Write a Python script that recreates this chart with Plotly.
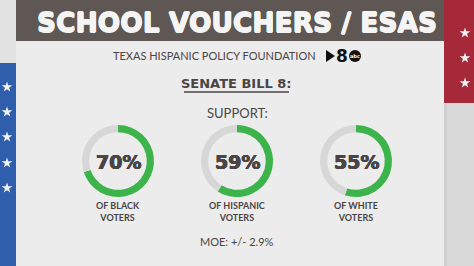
import plotly.graph_objects as go

W, H = 474, 266

# ---- data ----
title = "SCHOOL VOUCHERS / ESAS"
source = "TEXAS HISPANIC POLICY FOUNDATION"
bill = "SENATE BILL 8:"
subtitle = "SUPPORT:"
groups = ["BLACK", "HISPANIC", "WHITE"]
support = [70, 59, 55]
moe = "MOE: +/- 2.9%"

# ---- style ----
GREEN = "#3db44b"
TRACK = "#d7d7d7"
PANEL = "#ececec"
HEADER = "#5f5753"
TEXT = "#4a4544"
BLUE = "#2f5fac"
RED = "#a6293a"
centers_x = [118, 237, 356]
center_y = 161
R = 36

fig = go.Figure()

for g, v, cx in zip(groups, support, centers_x):
    fig.add_trace(go.Pie(
        values=[v, 100 - v],
        marker=dict(colors=[GREEN, TRACK], line=dict(width=0)),
        hole=0.80, sort=False, direction="clockwise", rotation=0,
        textinfo="none", hoverinfo="skip", showlegend=False,
        domain=dict(x=[(cx - R) / W, (cx + R) / W],
                    y=[(H - center_y - R) / H, (H - center_y + R) / H]),
    ))

shapes = []
def rect(x0, y0, x1, y1, color):
    shapes.append(dict(type="rect", xref="x", yref="y", x0=x0, x1=x1, y0=y0, y1=y1,
                       fillcolor=color, line=dict(width=0), layer="below"))

rect(0, 0, 16, 63, "#e2e2e2")
rect(0, 63, 16, 266, BLUE)
rect(444, 0, 474, 103, RED)
rect(444, 103, 474, 266, "#dadada")
rect(444, 103, 447, 266, "#cfcfcf")
rect(16, 0, 444, 41, HEADER)
# underline
shapes.append(dict(type="line", xref="x", yref="y", x0=184, x1=289, y0=92, y1=92,
                   line=dict(color=TEXT, width=1.5)))
# logo pieces
shapes.append(dict(type="path", xref="x", yref="y",
                   path="M 326 50 L 335 56 L 326 62 Z", fillcolor="#111", line=dict(width=0)))
shapes.append(dict(type="circle", xref="x", yref="y", x0=349, x1=361, y0=50, y1=62,
                   fillcolor="#111", line=dict(width=0)))

ann = []
def txt(x, y, s, size, color=TEXT, family="Lato", weight="normal", shadow=None):
    f = dict(size=size, color=color, family=family, weight=weight)
    if shadow:
        f["shadow"] = shadow
    ann.append(dict(x=x, y=y, xref="x", yref="y", text=s, showarrow=False,
                    xanchor="center", yanchor="middle", borderpad=0, font=f))

def thick(c, d):
    return f"{d}px 0 0 {c}, -{d}px 0 0 {c}, 0 {d}px 0 {c}, 0 -{d}px 0 {c}"

txt(237, 22, title, 26.5, "#f4f4f4", "DejaVu Sans", "bold", thick("#f4f4f4", 0.6))
txt(214, 55, source, 11)
txt(342, 56, "8", 17, "#111", "DejaVu Sans", "bold")
txt(355, 56, "abc", 5, "#fff", "DejaVu Sans", "bold")
txt(236, 83, bill, 13, TEXT, "DejaVu Sans", "bold")
txt(237, 113, subtitle, 13)
for g, v, cx in zip(groups, support, centers_x):
    txt(cx, 162, f"{v}%", 19, TEXT, "DejaVu Sans", "bold", thick(TEXT, 0.4))
    txt(cx, 211, f"OF {g}<br>VOTERS", 9, TEXT, "Lato", "bold")
txt(237, 241, moe, 11)

# stars
fig.add_trace(go.Scatter(
    x=[7, 7, 7, 7, 7, 465, 465, 465], y=[87, 112, 137, 163, 188, 33, 58, 83],
    mode="markers", marker=dict(symbol="star", size=8, color="#f2f2f2", line=dict(width=0)),
    hoverinfo="skip", showlegend=False))

fig.update_layout(
    width=W, height=H, margin=dict(l=0, r=0, t=0, b=0),
    paper_bgcolor=PANEL, plot_bgcolor=PANEL,
    xaxis=dict(range=[0, W], visible=False, domain=[0, 1], fixedrange=True),
    yaxis=dict(range=[H, 0], visible=False, domain=[0, 1], fixedrange=True),
    shapes=shapes, annotations=ann,
)
fig.write_html("out.html")
